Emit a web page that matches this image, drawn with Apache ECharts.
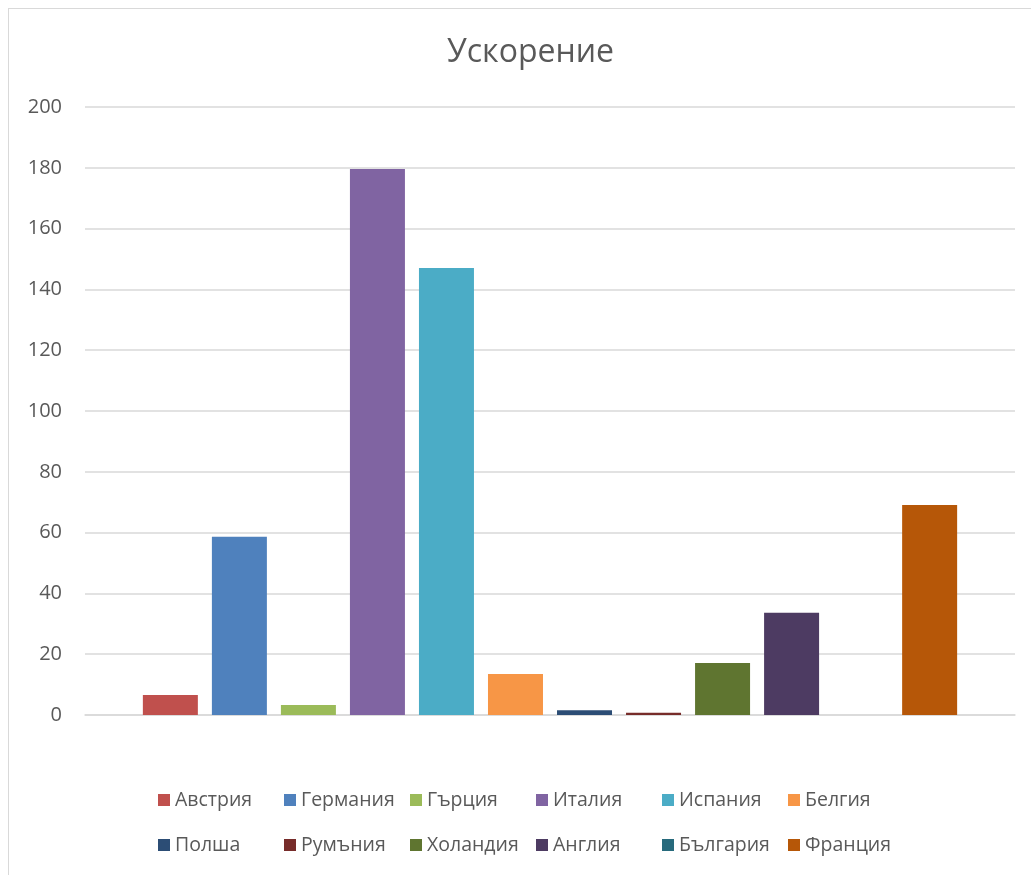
<!DOCTYPE html>
<html>
<head>
<meta charset="utf-8">
<script src="https://cdn.jsdelivr.net/npm/echarts@6/dist/echarts.min.js"></script>
<style>
html,body{margin:0;padding:0;background:#fff;overflow:hidden;}
#frame{position:absolute;left:8px;top:8px;width:1040px;height:900px;border:1px solid #d9d9d9;box-sizing:border-box;}
#chart{position:absolute;left:0;top:0;width:1031px;height:875px;}
</style>
</head>
<body>
<div id="frame"></div>
<div id="chart"></div>
<script>
const titleText = 'Ускорение';
const countries = ['Австрия','Германия','Гърция','Италия','Испания','Белгия','Полша','Румъния','Холандия','Англия','България','Франция'];
const values = [6.6, 58.6, 3.3, 179.6, 147, 13.5, 1.6, 0.7, 17.1, 33.6, 0, 69.1];
const colors = ['#C0504D','#4F81BD','#9BBB59','#8064A2','#4BACC6','#F79646','#2C4D75','#772C2A','#5F7530','#4D3B62','#276A7C','#B65708'];
const yTicks = [0, 20, 40, 60, 80, 100, 120, 140, 160, 180, 200];

const font = '"Open Sans", "Noto Sans", sans-serif';
const chart = echarts.init(document.getElementById('chart'));
chart.setOption({
  animation: false,
  color: colors,
  title: {
    text: titleText, left: 442, top: 32,
    textStyle: {fontFamily: font, fontSize: 32, fontWeight: 'normal', color: '#595959'}
  },
  grid: {left: 85, right: 16, top: 107, bottom: 160, containLabel: false},
  legend: {
    left: 153, top: 780, width: 770,
    itemWidth: 12, itemHeight: 12, itemGap: 15,
    icon: 'rect',
    textStyle: {fontFamily: font, fontSize: 19.5, color: '#595959', width: 94, height: 30, lineHeight: 30, overflow: 'none'},
    data: countries
  },
  xAxis: {
    type: 'category', data: [''],
    axisLine: {lineStyle: {color: '#d9d9d9', width: 1.5}},
    axisTick: {show: false}, axisLabel: {show: false}
  },
  yAxis: {
    type: 'value', min: yTicks[0], max: yTicks[yTicks.length-1], interval: 20,
    axisLine: {show: false}, axisTick: {show: false},
    axisLabel: {fontFamily: font, fontSize: 20, color: '#595959', margin: 23},
    splitLine: {lineStyle: {color: '#d9d9d9', width: 1.5}}
  },
  series: countries.map((c, i) => ({
    name: c, type: 'bar', data: [values[i]],
    barWidth: 55, barGap: '25.5%',
    itemStyle: {color: colors[i]}
  }))
});
</script>
</body>
</html>
